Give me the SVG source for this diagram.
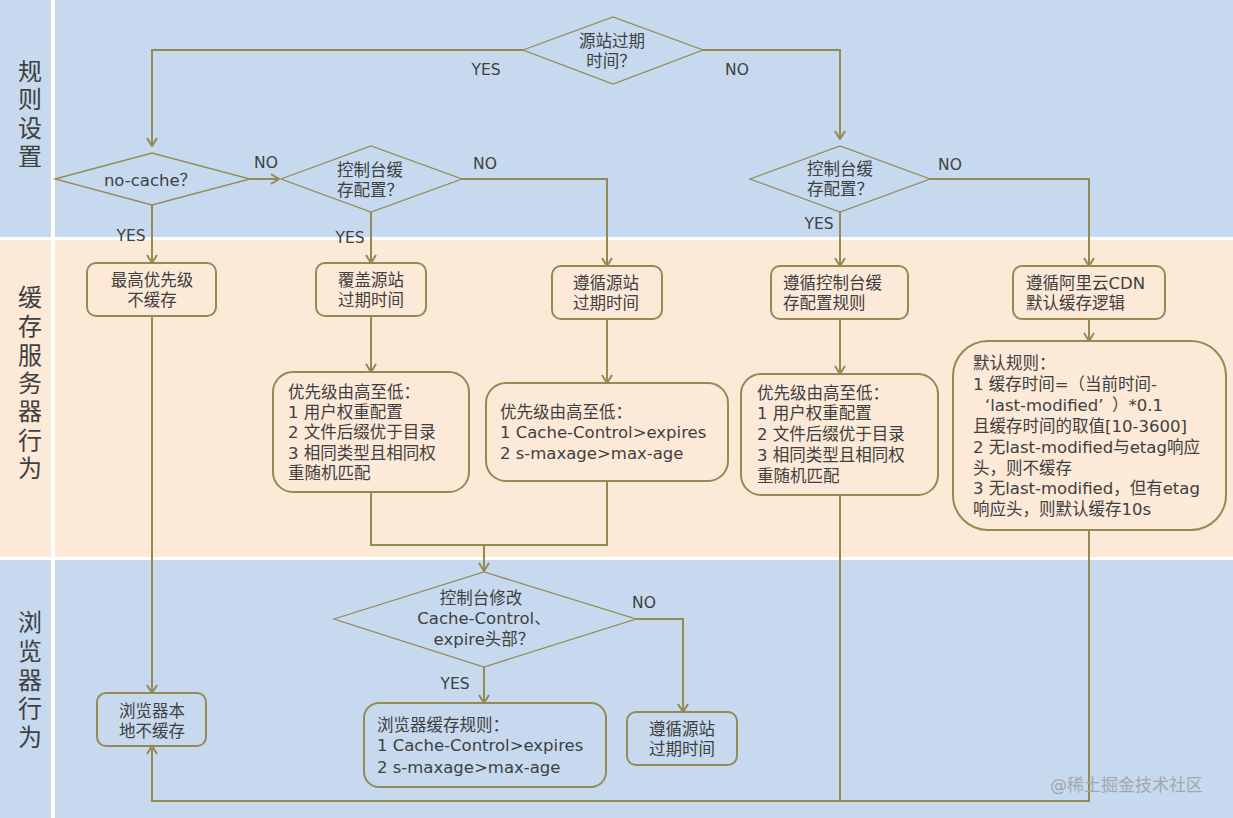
<svg xmlns="http://www.w3.org/2000/svg" width="1233" height="818" viewBox="0 0 1233 818">
<defs>
<marker id="ah" viewBox="0 0 10 12" refX="9" refY="6" markerWidth="10" markerHeight="12" markerUnits="userSpaceOnUse" orient="auto">
<path d="M1,1 L9,6 L1,11" fill="none" stroke="#948a54" stroke-width="2"/>
</marker>
</defs>
<style>
text{font-family:"DejaVu Sans","Noto Sans CJK SC",sans-serif;fill:#404040;font-size:16.5px}
.lane{font-size:24px;text-anchor:middle}
.c{text-anchor:middle}
.lb{font-size:15.5px}
.box{fill:none;stroke:#948a54;stroke-width:2}
.dia{fill:none;stroke:#948a54;stroke-width:1.3}
.ln{fill:none;stroke:#948a54;stroke-width:2}
.arr{marker-end:url(#ah)}
.wm{fill:#a3a7ab;font-size:17px}
</style>
<rect x="0" y="0" width="1233" height="237" fill="#c6d9ef"/>
<rect x="0" y="240" width="1233" height="317" fill="#fde9d8"/>
<rect x="0" y="560" width="1233" height="258" fill="#c6d9ef"/>
<rect x="51" y="0" width="4" height="818" fill="#ffffff"/>
<g id="lane-labels">
<text class="lane" x="30" y="80">规</text>
<text class="lane" x="30" y="108">则</text>
<text class="lane" x="30" y="137">设</text>
<text class="lane" x="30" y="165">置</text>
<text class="lane" x="30" y="306">缓</text>
<text class="lane" x="30" y="335">存</text>
<text class="lane" x="30" y="364">服</text>
<text class="lane" x="30" y="392">务</text>
<text class="lane" x="30" y="420">器</text>
<text class="lane" x="30" y="449">行</text>
<text class="lane" x="30" y="477">为</text>
<text class="lane" x="30" y="631">浏</text>
<text class="lane" x="30" y="660">览</text>
<text class="lane" x="30" y="689">器</text>
<text class="lane" x="30" y="717">行</text>
<text class="lane" x="30" y="746">为</text>
</g>
<g id="connectors">
<polyline class="ln arr" points="523,50 152,50 152,146"/>
<polyline class="ln arr" points="703,50 840,50 840,139"/>
<polyline class="ln arr" points="250,179 279,179"/>
<polyline class="ln arr" points="152,205 152,263"/>
<polyline class="ln arr" points="371,212 371,263"/>
<polyline class="ln arr" points="462,179 607,179 607,266"/>
<polyline class="ln arr" points="840,212 840,266"/>
<polyline class="ln arr" points="930,179 1089,179 1089,266"/>
<polyline class="ln arr" points="371,316 371,372"/>
<polyline class="ln arr" points="607,319 607,383"/>
<polyline class="ln arr" points="840,319 840,374"/>
<polyline class="ln arr" points="1089,319 1089,341"/>
<polyline class="ln" points="371,492 371,545 607,545 607,481"/>
<polyline class="ln arr" points="484,545 484,571"/>
<polyline class="ln arr" points="152,316 152,693"/>
<polyline class="ln arr" points="484,667 484,703"/>
<polyline class="ln arr" points="636,619 683,619 683,712"/>
<polyline class="ln" points="840,495 840,801"/>
<polyline class="ln arr" points="1089,530 1089,801 152,801 152,746"/>
<text class="c lb" x="486" y="75">YES</text>
<text class="c lb" x="737" y="75">NO</text>
<text class="c lb" x="266" y="168">NO</text>
<text class="c lb" x="485" y="169">NO</text>
<text class="c lb" x="131" y="241">YES</text>
<text class="c lb" x="350" y="243">YES</text>
<text class="c lb" x="950" y="170">NO</text>
<text class="c lb" x="819" y="229">YES</text>
<text class="c lb" x="644" y="608">NO</text>
<text class="c lb" x="455" y="689">YES</text>
</g>
<g id="d1">
<polygon class="dia" points="523,50 613,17 703,50 613,84"/>
<text class="c" x="612" y="47">源站过期</text>
<text class="c" x="611" y="67">时间？</text>
</g>
<g id="d-nocache">
<polygon class="dia" points="55,179 152,153 250,179 152,205"/>
<text class="c" x="150" y="186">no-cache？</text>
</g>
<g id="d2">
<polygon class="dia" points="281,179 371,146 462,179 371,212"/>
<text x="337" y="176">控制台缓</text>
<text x="337" y="196">存配置？</text>
</g>
<g id="d3">
<polygon class="dia" points="750,179 840,146 930,179 840,212"/>
<text x="807" y="175">控制台缓</text>
<text x="807" y="195">存配置？</text>
</g>
<g id="boxA">
<rect class="box" x="87" y="263" width="129" height="53" rx="9"/>
<text class="c" x="152" y="286">最高优先级</text>
<text class="c" x="152" y="306">不缓存</text>
</g>
<g id="boxB">
<rect class="box" x="316" y="263" width="110" height="53" rx="9"/>
<text class="c" x="371" y="286">覆盖源站</text>
<text class="c" x="371" y="306">过期时间</text>
</g>
<g id="boxC">
<rect class="box" x="273" y="372" width="196" height="120" rx="20"/>
<text x="288" y="398">优先级由高至低：</text>
<text x="288" y="418">1 用户权重配置</text>
<text x="288" y="438">2 文件后缀优于目录</text>
<text x="288" y="459">3 相同类型且相同权</text>
<text x="288" y="479">重随机匹配</text>
</g>
<g id="boxD">
<rect class="box" x="552" y="266" width="110" height="53" rx="9"/>
<text class="c" x="606" y="289">遵循源站</text>
<text class="c" x="606" y="309">过期时间</text>
</g>
<g id="boxE">
<rect class="box" x="486" y="383" width="242" height="98" rx="20"/>
<text x="500" y="418">优先级由高至低：</text>
<text x="500" y="438">1 Cache-Control&gt;expires</text>
<text x="500" y="459">2 s-maxage&gt;max-age</text>
</g>
<g id="boxF">
<rect class="box" x="771" y="266" width="137" height="53" rx="9"/>
<text x="783" y="289">遵循控制台缓</text>
<text x="783" y="309">存配置规则</text>
</g>
<g id="boxG">
<rect class="box" x="741" y="374" width="197" height="121" rx="20"/>
<text x="757" y="399">优先级由高至低：</text>
<text x="757" y="419">1 用户权重配置</text>
<text x="757" y="440">2 文件后缀优于目录</text>
<text x="757" y="461">3 相同类型且相同权</text>
<text x="757" y="482">重随机匹配</text>
</g>
<g id="boxH">
<rect class="box" x="1013" y="266" width="152" height="53" rx="9"/>
<text x="1026" y="289">遵循阿里云CDN</text>
<text x="1026" y="309">默认缓存逻辑</text>
</g>
<g id="boxI">
<rect class="box" x="953" y="341" width="273" height="189" rx="35"/>
<text x="973" y="369">默认规则：</text>
<text x="973" y="390">1 缓存时间=（当前时间-</text>
<text x="985" y="411">‘last-modified’<tspan x="1112">）*0.1</tspan></text>
<text x="973" y="432">且缓存时间的取值[10-3600]</text>
<text x="973" y="453">2 无last-modified与etag响应</text>
<text x="973" y="474">头，则不缓存</text>
<text x="973" y="494">3 无last-modified，但有etag</text>
<text x="973" y="515">响应头，则默认缓存10s</text>
</g>
<g id="d4">
<polygon class="dia" points="334,619 484,572 636,619 484,667"/>
<text class="c" x="481" y="604">控制台修改</text>
<text class="c" x="484" y="624">Cache-Control、</text>
<text class="c" x="484" y="645">expire头部？</text>
</g>
<g id="boxJ">
<rect class="box" x="97" y="693" width="109" height="53" rx="9"/>
<text class="c" x="152" y="717">浏览器本</text>
<text class="c" x="152" y="737">地不缓存</text>
</g>
<g id="boxK">
<rect class="box" x="364" y="703" width="242" height="84" rx="15"/>
<text x="377" y="731">浏览器缓存规则：</text>
<text x="377" y="751">1 Cache-Control&gt;expires</text>
<text x="377" y="773">2 s-maxage&gt;max-age</text>
</g>
<g id="boxL">
<rect class="box" x="627" y="712" width="110" height="53" rx="9"/>
<text class="c" x="682" y="735">遵循源站</text>
<text class="c" x="682" y="755">过期时间</text>
</g>
<text class="wm" x="1050" y="791">@稀土掘金技术社区</text>
</svg>
